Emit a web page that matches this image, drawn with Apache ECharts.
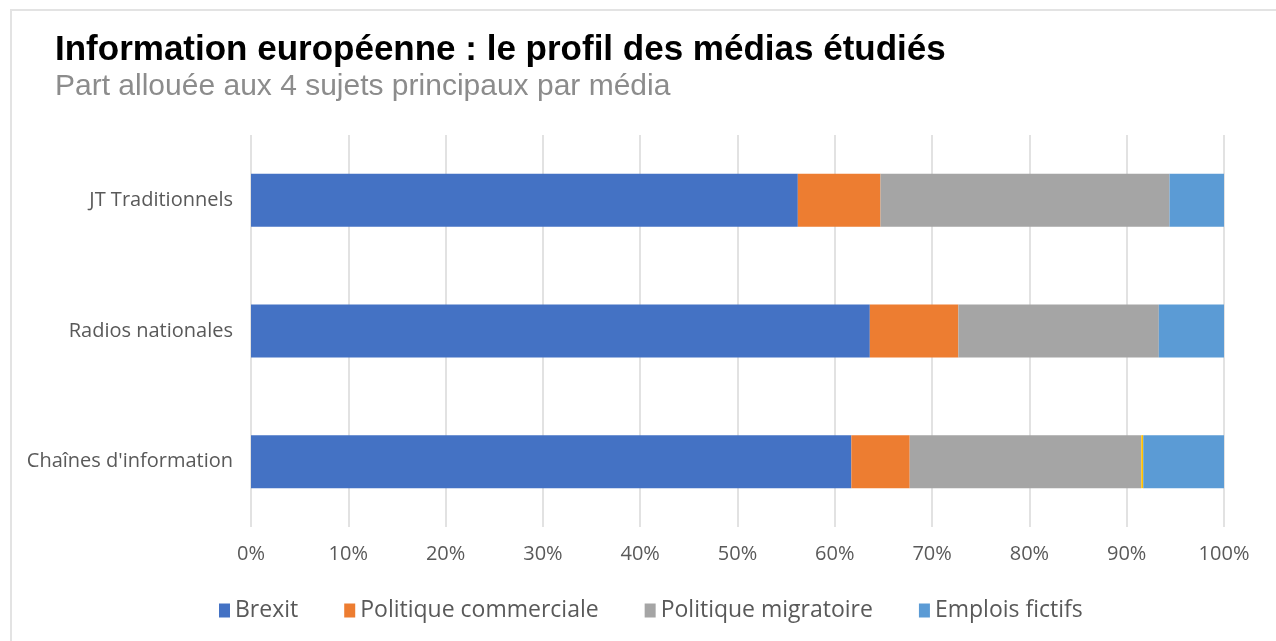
<!DOCTYPE html>
<html>
<head>
<meta charset="utf-8">
<script src="https://cdn.jsdelivr.net/npm/echarts@6/dist/echarts.min.js"></script>
<style>
  html, body { margin: 0; padding: 0; background: #fff; }
  #frame { position: absolute; left: 10px; top: 9px; width: 1270px; height: 640px; border: 2px solid #e3e3e3; box-sizing: border-box; }
  #chart { position: absolute; left: 0; top: 0; width: 1276px; height: 641px; }
</style>
</head>
<body>
<div id="frame"></div>
<div id="chart"></div>
<script>
// media (top to bottom)
var categories = ["JT Traditionnels", "Radios nationales", "Chaînes d'information"];
// share per topic, in %
var brexit = [56.2, 63.6, 61.7];
var commerciale = [8.5, 9.1, 6.0];
var migratoire = [29.7, 20.6, 23.8];
var autre = [0, 0, 0.2]; // thin yellow sliver, not in legend
var fictifs = [5.6, 6.7, 8.3];

var seriesNames = ["Brexit", "Politique commerciale", "Politique migratoire", "Emplois fictifs"];
var labelColor = "#595959";
var font = "'Open Sans', Lato, sans-serif";

function bar(name, data, color) {
  return {
    name: name,
    type: "bar",
    stack: "total",
    barWidth: 53,
    itemStyle: { color: color },
    data: data
  };
}

var myChart = echarts.init(document.getElementById("chart"));
var option = {
  animation: false,
  title: {
    text: "Information européenne : le profil des médias étudiés",
    subtext: "Part allouée aux 4 sujets principaux par média",
    left: 50,
    top: 28,
    itemGap: 4,
    textStyle: { color: "#000", fontSize: 35, fontWeight: "bold", fontFamily: "'Liberation Sans', Arial, sans-serif" },
    subtextStyle: { color: "#8c8c8c", fontSize: 30, fontFamily: "'Liberation Sans', Arial, sans-serif" }
  },
  legend: {
    data: seriesNames,
    left: 214,
    top: 594,
    itemWidth: 11,
    itemHeight: 14,
    itemGap: 46,
    icon: "rect",
    textStyle: { color: labelColor, fontSize: 23, fontFamily: font }
  },
  grid: { left: 251, right: 52, top: 135, bottom: 114 },
  xAxis: {
    type: "value",
    min: 0,
    max: 100,
    interval: 10,
    axisLine: { show: false },
    axisTick: { show: false },
    axisLabel: { formatter: "{value}%", color: labelColor, fontSize: 20, fontFamily: font, margin: 17 },
    splitLine: { lineStyle: { color: "#d9d9d9", width: 1.5 } }
  },
  yAxis: {
    type: "category",
    inverse: true,
    data: categories,
    axisLine: { show: false },
    axisTick: { show: false },
    axisLabel: { color: labelColor, fontSize: 20, fontFamily: font, margin: 18 }
  },
  series: [
    bar("Brexit", brexit, "#4472C4"),
    bar("Politique commerciale", commerciale, "#ED7D31"),
    bar("Politique migratoire", migratoire, "#A5A5A5"),
    bar("Autre", autre, "#FFC000"),
    bar("Emplois fictifs", fictifs, "#5B9BD5")
  ]
};
myChart.setOption(option);
</script>
</body>
</html>
